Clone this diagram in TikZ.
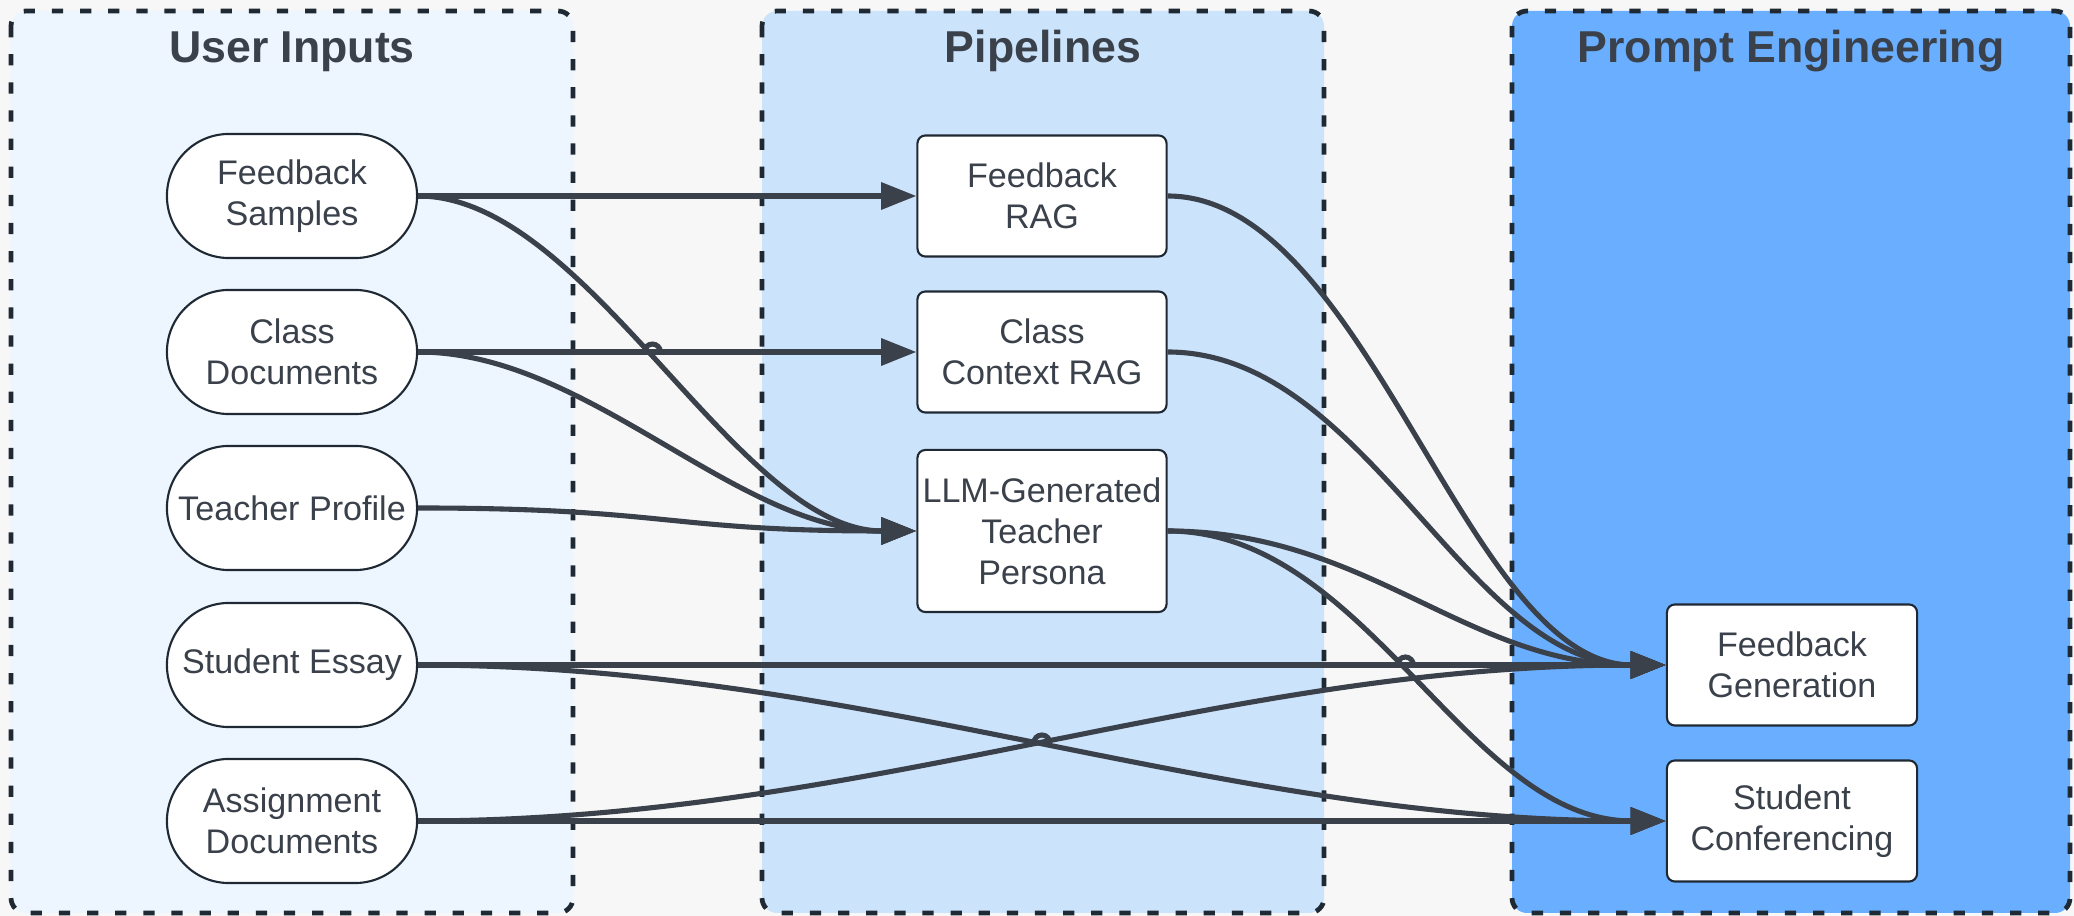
\documentclass[tikz,border=0pt]{standalone}
\usepackage{fontspec}
\setmainfont{Liberation Sans}
\usetikzlibrary{arrows.meta,intersections}
\definecolor{bgc}{HTML}{F7F7F7}
\definecolor{uifill}{HTML}{EDF5FF}
\definecolor{pifill}{HTML}{CCE3FC}
\definecolor{pefill}{HTML}{6AAFFF}
\definecolor{ink}{HTML}{3A414B}
\definecolor{frame}{HTML}{1F2933}
\begin{document}
\begin{tikzpicture}[x=0.01cm,y=-0.01cm,
  container/.style={draw=frame, line width=1.35pt, dash pattern=on 3.2pt off 4.8pt, rounded corners=0.15cm},
  title/.style={font=\fontsize{12.7}{15}\selectfont\bfseries, text=ink, anchor=base},
  inbox/.style={draw=frame, fill=white, line width=0.6pt, minimum width=2.5cm, minimum height=1.24cm, rounded corners=0.62cm, inner sep=0pt, align=center, font=\fontsize{9.7}{11.7}\selectfont, text=ink},
  procbox/.style={draw=frame, fill=white, line width=0.6pt, minimum width=2.49cm, minimum height=1.21cm, rounded corners=0.08cm, inner sep=0pt, align=center, font=\fontsize{9.7}{11.7}\selectfont, text=ink},
  link/.style={draw=ink, line width=1.45pt, -{Triangle[length=10pt,width=7.5pt]}},
  hop/.style={draw=ink, line width=1.45pt},
]
\useasboundingbox (0,0) rectangle (2074,916);
\fill[bgc] (0,0) rectangle (2074,916);

% containers
\draw[container, fill=uifill] (11,11) rectangle (573,913);
\draw[container, fill=pifill] (762,11) rectangle (1324,913);
\draw[container, fill=pefill] (1512,11) rectangle (2070,913);
\node[title] (t1) at (292,63) {User Inputs};
\node[title] (t2) at (1043,63) {Pipelines};
\node[title] (t3) at (1791,63) {Prompt Engineering};

% user inputs
\node[inbox] (fs) at (292,196) {Feedback\\Samples};
\node[inbox] (cd) at (292,352) {Class\\Documents};
\node[inbox] (tp) at (292,508) {Teacher Profile};
\node[inbox] (se) at (292,665) {Student Essay};
\node[inbox] (ad) at (292,821) {Assignment\\Documents};

% pipelines
\node[procbox] (frag) at (1042,196) {Feedback\\RAG};
\node[procbox] (ccr) at (1042,352) {Class\\Context RAG};
\node[procbox, minimum height=1.62cm] (llm) at (1042,531) {LLM-Generated\\Teacher\\Persona};

% prompt engineering
\node[procbox, minimum width=2.5cm] (fg) at (1792,665) {Feedback\\Generation};
\node[procbox, minimum width=2.5cm] (sc) at (1792,821) {Student\\Conferencing};

% links
\draw[link] (fs.east) -- (frag.west);
\draw[link, name path=cdccr] (cd.east) -- (ccr.west);
\draw[link, name path=fsllm] (fs.east) .. controls +(170,0) and +(-180,0) .. (llm.west);
\draw[link] (cd.east) .. controls +(170,0) and +(-180,0) .. (llm.west);
\draw[link] (tp.east) .. controls +(250,0) and +(-250,0) .. (llm.west);
\draw[link, name path=sefg] (se.east) -- (fg.west);
\draw[link, name path=sesc] (se.east) .. controls +(450,0) and +(-450,0) .. (sc.west);
\draw[link, name path=adfg] (ad.east) .. controls +(450,0) and +(-450,0) .. (fg.west);
\draw[link] (ad.east) -- (sc.west);
\draw[link] (frag.east) .. controls +(200,0) and +(-200,0) .. (fg.west);
\draw[link] (ccr.east) .. controls +(200,0) and +(-200,0) .. (fg.west);
\draw[link] (llm.east) .. controls +(200,0) and +(-200,0) .. (fg.west);
\draw[link, name path=llmsc] (llm.east) .. controls +(200,0) and +(-200,0) .. (sc.west);

% line hops
\path[name intersections={of=fsllm and cdccr, by=h1}];
\path[name intersections={of=sesc and adfg, by=h2}];
\path[name intersections={of=llmsc and sefg, by=h3}];
\draw[hop] ([xshift=-0.08cm]h1) arc[start angle=180, end angle=0, radius=0.08cm];
\draw[hop] ([xshift=-0.08cm]h2) arc[start angle=180, end angle=0, radius=0.08cm];
\draw[hop] ([xshift=-0.08cm]h3) arc[start angle=180, end angle=0, radius=0.08cm];
\end{tikzpicture}
\end{document}
